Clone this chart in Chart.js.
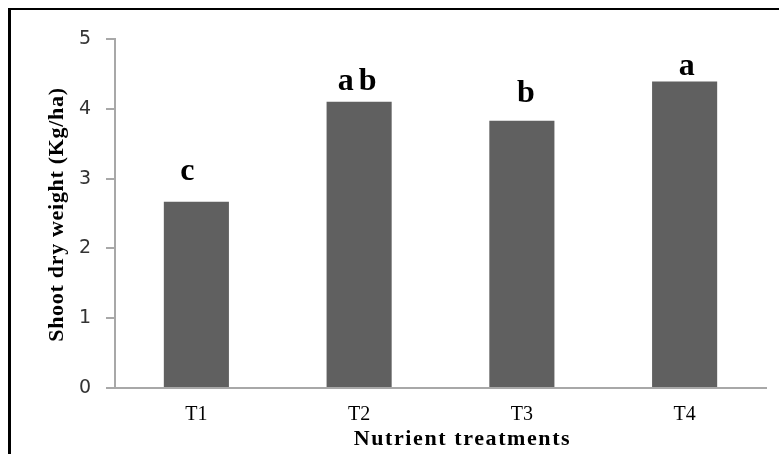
<!DOCTYPE html>
<html>
<head>
<meta charset="utf-8">
<script src="https://cdn.jsdelivr.net/npm/chart.js@4/dist/chart.umd.min.js"></script>
<style>
  html, body { margin: 0; padding: 0; background: #fff; overflow: hidden; }
  #wrap { position: relative; width: 779px; height: 454px; }
  #frame { position: absolute; left: 8px; top: 8px; width: 900px; height: 600px;
           border-left: 3px solid #000; border-top: 2px solid #000; pointer-events: none; }
</style>
</head>
<body>
<div id="wrap">
  <canvas id="c" width="779" height="454"></canvas>
  <div id="frame"></div>
</div>
<script>
const categories = ["T1", "T2", "T3", "T4"];
const shootDryWeight = [2.67, 4.10, 3.83, 4.39];
const significanceLetters = ["c", "ab", "b", "a"];
const yTicks = [0, 1, 2, 3, 4, 5];
const yAxisTitle = "Shoot dry weight (Kg/ha)";
const xAxisTitle = "Nutrient treatments";

// style: letter placement offsets (px) relative to bar top/center
const letterDx = [-9, -2, 4, 2];
const letterDy = [22, 12, 19, 7];

const SERIF = "'Liberation Serif', 'Times New Roman', serif";

const lettersPlugin = {
  id: 'letters',
  afterDatasetsDraw(chart) {
    const ctx = chart.ctx;
    const meta = chart.getDatasetMeta(0);
    ctx.save();
    ctx.fillStyle = '#000';
    ctx.font = "bold 32px " + SERIF;
    ctx.textAlign = 'center';
    ctx.textBaseline = 'alphabetic';
    meta.data.forEach((bar, i) => {
      const t = significanceLetters[i];
      if (t.length > 1) { ctx.letterSpacing = '5px'; } else { ctx.letterSpacing = '0px'; }
      const extra = t.length > 1 ? 2.5 : 0;
      ctx.fillText(t, bar.x + letterDx[i] + extra, bar.y - letterDy[i]);
    });
    ctx.restore();
  }
};

const titlesPlugin = {
  id: 'axisTitles',
  afterDraw(chart) {
    const ctx = chart.ctx;
    const area = chart.chartArea;
    ctx.save();
    ctx.fillStyle = '#000';
    // x title
    ctx.font = "bold 22px " + SERIF;
    ctx.letterSpacing = '1.6px';
    ctx.textAlign = 'center';
    ctx.textBaseline = 'alphabetic';
    ctx.fillText(xAxisTitle, (area.left + area.right) / 2 + 22, 445);
    // y title
    ctx.letterSpacing = '0.7px';
    ctx.translate(57, (area.top + area.bottom) / 2 + 1);
    ctx.rotate(-Math.PI / 2);
    ctx.textBaseline = 'middle';
    ctx.fillText(yAxisTitle, 0, 0);
    ctx.restore();
  }
};

new Chart(document.getElementById('c'), {
  type: 'bar',
  data: {
    labels: categories,
    datasets: [{
      data: shootDryWeight,
      backgroundColor: '#606060',
      borderWidth: 0,
      barPercentage: 0.4,
      categoryPercentage: 1.0
    }]
  },
  options: {
    responsive: false,
    animation: false,
    devicePixelRatio: 1,
    layout: { padding: { top: 39, right: 13, bottom: 0, left: 0 } },
    plugins: {
      legend: { display: false },
      tooltip: { enabled: false },
      title: { display: false }
    },
    scales: {
      x: {
        grid: { display: false, drawTicks: false },
        border: { display: true, color: '#a8a8a8', width: 2 },
        ticks: {
          color: '#000',
          font: { family: SERIF, size: 20 },
          padding: 15,
          maxRotation: 0
        },
        afterFit(scale) { scale.height = 66; }
      },
      y: {
        min: 0,
        max: 5,
        afterBuildTicks(scale) { scale.ticks = yTicks.map(v => ({ value: v })); },
        grid: {
          display: true,
          drawOnChartArea: false,
          drawTicks: true,
          tickLength: 9,
          color: '#a8a8a8',
          lineWidth: 2
        },
        border: { display: true, color: '#a8a8a8', width: 2 },
        ticks: {
          color: '#333',
          font: { family: "'DejaVu Sans', sans-serif", size: 19 },
          padding: 15
        },
        afterFit(scale) { scale.width = 115; }
      }
    }
  },
  plugins: [lettersPlugin, titlesPlugin]
});
</script>
</body>
</html>
